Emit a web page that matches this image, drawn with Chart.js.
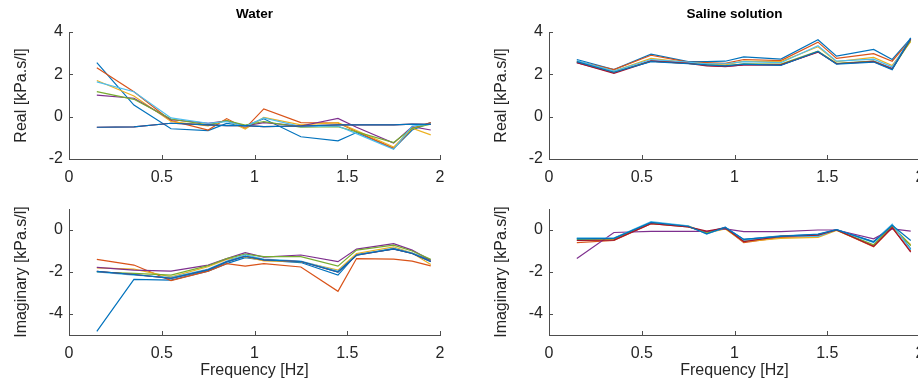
<!DOCTYPE html>
<html>
<head>
<meta charset="utf-8">
<script src="https://cdn.jsdelivr.net/npm/chart.js@4.4.1/dist/chart.umd.min.js"></script>
<style>
  html, body { margin: 0; padding: 0; background: #fff; overflow: hidden; }
  #page { position: relative; width: 918px; height: 380px; overflow: hidden; }
  .panel { position: absolute; }
</style>
</head>
<body>
<div id="page">
  <div class="panel" style="left:0;top:0"><canvas id="waterReal" width="459" height="185"></canvas></div>
  <div class="panel" style="left:480px;top:0"><canvas id="salineReal" width="460" height="185"></canvas></div>
  <div class="panel" style="left:0;top:185px"><canvas id="waterImag" width="459" height="195"></canvas></div>
  <div class="panel" style="left:480px;top:185px"><canvas id="salineImag" width="460" height="195"></canvas></div>
</div>
<script>
// ---- data ----
const freq = [0.15, 0.35, 0.55, 0.75, 0.85, 0.95, 1.05, 1.25, 1.45, 1.55, 1.75, 1.85, 1.95];
const xTicks = [0, 0.5, 1, 1.5, 2];
const realTicks = [-2, 0, 2, 4];
const imagTicks = [-4, -2, 0];

// one row per measurement, MATLAB colour order
const waterReal = [
    [2.55, 0.55, -0.57, -0.66, -0.32, -0.43, -0.10, -0.95, -1.14, -0.75, -1.50, -0.63, -0.28],
    [2.31, 1.18, -0.19, -0.63, -0.09, -0.55, 0.37, -0.28, -0.30, -0.70, -1.50, -0.55, -0.28],
    [1.71, 0.98, -0.23, -0.43, -0.17, -0.58, -0.03, -0.39, -0.28, -0.65, -1.44, -0.55, -0.86],
    [1.02, 0.87, -0.14, -0.31, -0.20, -0.43, -0.28, -0.44, -0.08, -0.50, -1.25, -0.47, -0.63],
    [1.18, 0.82, -0.11, -0.39, -0.19, -0.40, -0.23, -0.50, -0.47, -0.72, -1.22, -0.55, -0.35],
    [1.64, 1.18, -0.06, -0.31, -0.23, -0.47, -0.06, -0.47, -0.44, -0.80, -1.54, -0.44, -0.35],
    [-0.50, -0.48, -0.31, -0.39, -0.42, -0.42, -0.47, -0.44, -0.39, -0.39, -0.39, -0.35, -0.36],
    [-0.50, -0.48, -0.31, -0.39, -0.42, -0.42, -0.47, -0.44, -0.39, -0.39, -0.39, -0.35, -0.36]
];
const waterImag = [
    [-4.83, -2.35, -2.39, -1.96, -1.60, -1.32, -1.44, -1.55, -2.15, -1.16, -0.91, -1.10, -1.44],
    [-1.40, -1.67, -2.41, -1.96, -1.60, -1.72, -1.60, -1.76, -2.92, -1.36, -1.39, -1.48, -1.71],
    [-1.80, -1.86, -2.23, -1.75, -1.40, -1.27, -1.47, -1.51, -1.91, -1.12, -0.80, -1.10, -1.64],
    [-1.78, -1.91, -1.96, -1.67, -1.36, -1.08, -1.29, -1.19, -1.51, -0.91, -0.65, -0.96, -1.44],
    [-2.00, -2.07, -2.15, -1.70, -1.36, -1.15, -1.27, -1.27, -1.72, -0.96, -0.72, -1.00, -1.40],
    [-1.99, -2.15, -2.25, -1.86, -1.48, -1.19, -1.39, -1.48, -1.96, -1.19, -0.86, -1.10, -1.51],
    [-1.97, -2.12, -2.30, -1.90, -1.52, -1.25, -1.42, -1.50, -2.00, -1.20, -0.90, -1.12, -1.50],
    [-1.97, -2.12, -2.30, -1.90, -1.52, -1.25, -1.42, -1.50, -2.00, -1.20, -0.90, -1.12, -1.50]
];
const salineReal = [
    [2.70, 2.22, 2.95, 2.60, 2.60, 2.62, 2.82, 2.72, 3.63, 2.86, 3.18, 2.70, 3.70],
    [2.63, 2.22, 2.90, 2.58, 2.55, 2.52, 2.70, 2.65, 3.52, 2.75, 2.98, 2.62, 3.65],
    [2.60, 2.15, 2.75, 2.56, 2.50, 2.45, 2.62, 2.60, 3.30, 2.60, 2.80, 2.42, 3.55],
    [2.55, 2.08, 2.65, 2.55, 2.42, 2.36, 2.45, 2.45, 3.07, 2.50, 2.62, 2.28, 3.65],
    [2.57, 2.10, 2.62, 2.52, 2.45, 2.40, 2.50, 2.48, 3.10, 2.52, 2.62, 2.25, 3.60],
    [2.65, 2.15, 2.70, 2.58, 2.50, 2.50, 2.60, 2.55, 3.35, 2.62, 2.72, 2.35, 3.70],
    [2.55, 2.05, 2.62, 2.52, 2.40, 2.38, 2.45, 2.45, 3.05, 2.50, 2.60, 2.25, 3.68],
    [2.60, 2.10, 2.60, 2.50, 2.45, 2.40, 2.48, 2.42, 3.08, 2.48, 2.58, 2.22, 3.72]
];
const salineImag = [
    [-0.40, -0.40, 0.35, 0.17, -0.12, 0.13, -0.45, -0.28, -0.22, 0.02, -0.55, 0.25, -0.90],
    [-0.60, -0.50, 0.30, 0.15, -0.10, 0.08, -0.60, -0.35, -0.30, 0.00, -0.80, 0.10, -1.00],
    [-0.50, -0.45, 0.32, 0.20, -0.15, 0.05, -0.55, -0.40, -0.35, -0.02, -0.75, 0.15, -0.70],
    [-1.36, -0.12, -0.07, -0.07, -0.07, 0.05, -0.08, -0.08, 0.00, 0.00, -0.42, 0.05, -0.05],
    [-0.45, -0.42, 0.33, 0.17, -0.15, 0.10, -0.50, -0.30, -0.28, 0.00, -0.70, 0.20, -0.75],
    [-0.38, -0.38, 0.40, 0.20, -0.20, 0.12, -0.48, -0.30, -0.30, 0.02, -0.60, 0.28, -0.95],
    [-0.50, -0.48, 0.30, 0.15, -0.05, 0.10, -0.55, -0.30, -0.25, 0.00, -0.78, 0.12, -1.05],
    [-0.42, -0.40, 0.36, 0.18, -0.18, 0.12, -0.45, -0.30, -0.20, 0.02, -0.58, 0.22, -0.50]
];

// ---- styling ----
const lineColors = ["#0072BD", "#D95319", "#EDB120", "#7E2F8E", "#77AC30", "#4DBEEE", "#A2142F", "#0072BD"];
const fontFamily = "'Liberation Sans', Arial, Helvetica, sans-serif";
const axisColor = "#4d4d4d";
const textColor = "#262626";
const tickLen = 4;

// MATLAB style tick marks pointing into the axes
const inwardTicks = {
    id: "inwardTicks",
    afterDraw(chart) {
        const { ctx, chartArea, scales } = chart;
        ctx.save();
        ctx.strokeStyle = axisColor;
        ctx.lineWidth = 1;
        ctx.beginPath();
        scales.x.ticks.forEach(t => {
            const px = Math.round(scales.x.getPixelForValue(t.value)) + 0.5;
            ctx.moveTo(px, chartArea.bottom);
            ctx.lineTo(px, chartArea.bottom - tickLen);
        });
        scales.y.ticks.forEach(t => {
            const py = Math.round(scales.y.getPixelForValue(t.value)) + 0.5;
            ctx.moveTo(chartArea.left, py);
            ctx.lineTo(chartArea.left + tickLen, py);
        });
        ctx.stroke();
        ctx.restore();
    }
};

// axes title centred over the plot area, like MATLAB
const axesTitle = {
    id: "axesTitle",
    afterDraw(chart, args, opts) {
        if (!opts.text) return;
        const { ctx, chartArea } = chart;
        ctx.save();
        ctx.font = "bold 13.5px " + fontFamily;
        ctx.fillStyle = "#000";
        ctx.textAlign = "center";
        ctx.textBaseline = "middle";
        ctx.fillText(opts.text, (chartArea.left + chartArea.right) / 2, 14);
        ctx.restore();
    }
};

function makePanel(canvasId, rows, cfg) {
    const datasets = rows.map((vals, i) => ({
        data: freq.map((f, k) => ({ x: f, y: vals[k] })),
        borderColor: lineColors[i],
        borderWidth: 1.2,
        pointRadius: 0,
        fill: false,
        tension: 0,
        order: rows.length - i
    }));

    return new Chart(document.getElementById(canvasId), {
        type: "line",
        data: { datasets: datasets },
        options: {
            responsive: false,
            animation: false,
            events: [],
            layout: { padding: cfg.padding },
            plugins: {
                legend: { display: false },
                tooltip: { enabled: false },
                title: { display: false },
                axesTitle: { text: cfg.title || "" }
            },
            scales: {
                x: {
                    type: "linear",
                    min: 0,
                    max: 2,
                    afterBuildTicks: s => { s.ticks = xTicks.map(v => ({ value: v })); },
                    afterFit: s => { s.height = cfg.xHeight; },
                    grid: { display: false, drawTicks: false },
                    border: { display: true, color: axisColor, width: 1 },
                    ticks: {
                        padding: 9,
                        color: textColor,
                        maxRotation: 0,
                        autoSkip: false,
                        font: { family: fontFamily, size: 16 },
                        callback: v => String(v)
                    },
                    title: {
                        display: !!cfg.xTitle,
                        text: cfg.xTitle || "",
                        color: textColor,
                        font: { family: fontFamily, size: 16 },
                        padding: { top: 2.4, bottom: 0 }
                    }
                },
                y: {
                    type: "linear",
                    min: cfg.yMin,
                    max: cfg.yMax,
                    afterBuildTicks: s => { s.ticks = cfg.yTicks.map(v => ({ value: v })); },
                    afterFit: s => { s.width = 69; },
                    grid: { display: false, drawTicks: false },
                    border: { display: true, color: axisColor, width: 1 },
                    ticks: {
                        padding: 6,
                        color: textColor,
                        font: { family: fontFamily, size: 16 },
                        callback: v => String(v)
                    },
                    title: {
                        display: true,
                        text: cfg.yTitle,
                        color: textColor,
                        font: { family: fontFamily, size: 16 },
                        padding: { top: 12.4, bottom: 0 }
                    }
                }
            }
        },
        plugins: [inwardTicks, axesTitle]
    });
}

makePanel("waterReal", waterReal, {
    title: "Water", yTitle: "Real [kPa.s/l]", yMin: -2, yMax: 4, yTicks: realTicks,
    xHeight: 26, padding: { top: 32, right: 19, bottom: 0, left: 0 }
});
makePanel("salineReal", salineReal, {
    title: "Saline solution", yTitle: "Real [kPa.s/l]", yMin: -2, yMax: 4, yTicks: realTicks,
    xHeight: 26, padding: { top: 32, right: 20, bottom: 0, left: 0 }
});
makePanel("waterImag", waterImag, {
    yTitle: "Imaginary [kPa.s/l]", xTitle: "Frequency [Hz]", yMin: -5, yMax: 1, yTicks: imagTicks,
    xHeight: 45, padding: { top: 24, right: 19, bottom: 0, left: 0 }
});
makePanel("salineImag", salineImag, {
    yTitle: "Imaginary [kPa.s/l]", xTitle: "Frequency [Hz]", yMin: -5, yMax: 1, yTicks: imagTicks,
    xHeight: 45, padding: { top: 24, right: 20, bottom: 0, left: 0 }
});
</script>
</body>
</html>
